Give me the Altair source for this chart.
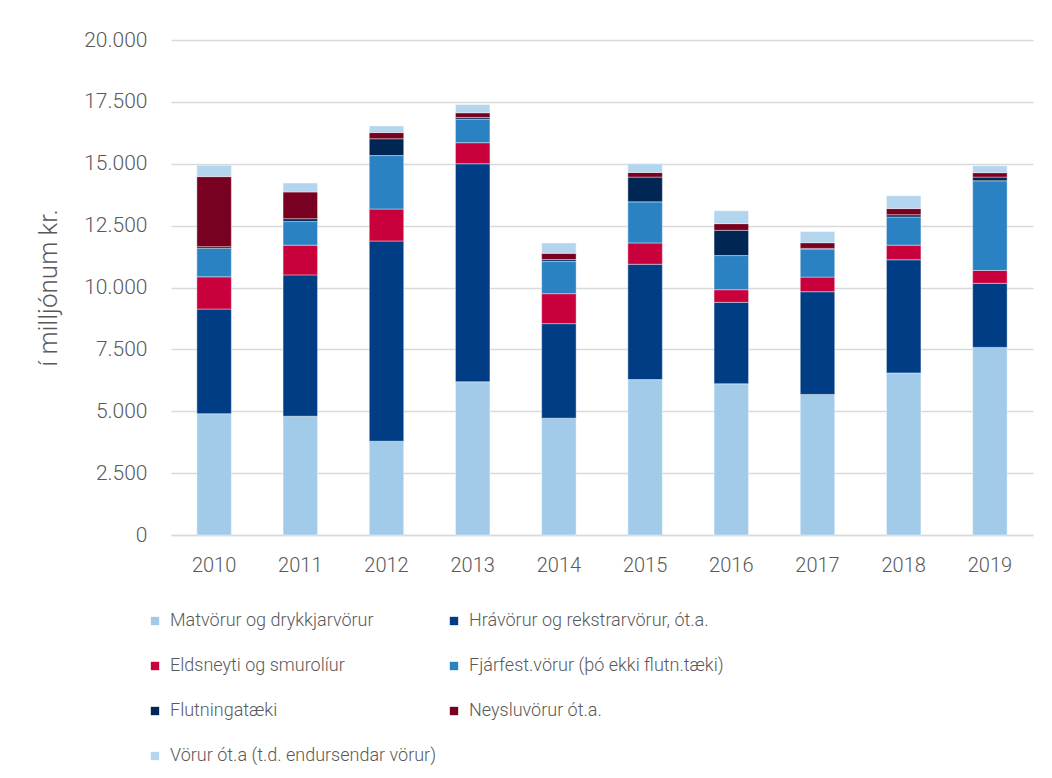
import altair as alt
import pandas as pd

years = ["2010", "2011", "2012", "2013", "2014", "2015", "2016", "2017", "2018", "2019"]
categories = [
    "Matvörur og drykkjarvörur",
    "Hrávörur og rekstrarvörur, ót.a.",
    "Eldsneyti og smurolíur",
    "Fjárfest.vörur (þó ekki flutn.tæki)",
    "Flutningatæki",
    "Neysluvörur ót.a.",
    "Vörur ót.a (t.d. endursendar vörur)",
]
colors = ["#A2CBEA", "#003D85", "#C8003C", "#2B82C2", "#002654", "#780020", "#B4D5EE"]

matvorur = [4900, 4800, 3790, 6190, 4720, 6280, 6110, 5680, 6550, 7580]
hravorur = [4230, 5710, 8090, 8810, 3820, 4660, 3290, 4150, 4570, 2590]
eldsneyti = [1300, 1200, 1290, 850, 1210, 860, 510, 590, 590, 520]
fjarfest = [1150, 960, 2160, 950, 1310, 1660, 1380, 1130, 1140, 3620]
flutningataeki = [70, 110, 680, 70, 70, 1000, 1020, 30, 90, 150]
neysluvorur = [2830, 1080, 250, 190, 250, 190, 270, 230, 250, 180]
vorur_ota = [460, 360, 270, 330, 420, 350, 520, 450, 520, 280]

series = [matvorur, hravorur, eldsneyti, fjarfest, flutningataeki, neysluvorur, vorur_ota]

rows = []
for ci, (cat, vals) in enumerate(zip(categories, series)):
    for y, v in zip(years, vals):
        rows.append({"Ár": y, "Flokkur": cat, "Gildi": v, "röð": ci})
df = pd.DataFrame(rows)

# legend lays entries out column by column: reorder so rows read left-to-right
legend_order = [0, 2, 4, 6, 1, 3, 5]
legend_domain = [categories[i] for i in legend_order]
legend_range = [colors[i] for i in legend_order]

FONT = "Roboto"
GREY = "#595959"

chart = (
    alt.Chart(df)
    .mark_bar(stroke="#FFFFFF", strokeOpacity=0.5, strokeWidth=0.8)
    .encode(
        x=alt.X(
            "Ár:N",
            sort=years,
            title=None,
            scale=alt.Scale(paddingInner=0.6, paddingOuter=0.3),
            axis=alt.Axis(
                labelAngle=0,
                labelFontSize=20,
                labelFontWeight=300,
                labelColor=GREY,
                labelFont=FONT,
                labelPadding=20,
                ticks=False,
                domainColor="#D9D9D9",
                domainWidth=1.5,
            ),
        ),
        y=alt.Y(
            "Gildi:Q",
            stack="zero",
            title="í milljónum kr.",
            scale=alt.Scale(domain=[0, 20000], nice=False),
            axis=alt.Axis(
                values=[0, 2500, 5000, 7500, 10000, 12500, 15000, 17500, 20000],
                labelExpr="replace(format(datum.value, ','), ',', '.')",
                labelFontSize=21,
                labelFontWeight=300,
                labelColor=GREY,
                labelFont=FONT,
                labelPadding=24,
                ticks=False,
                domain=False,
                gridColor="#D9D9D9",
                gridWidth=1.5,
                titleFontSize=26,
                titleFont=FONT,
                titleColor=GREY,
                titleFontWeight=300,
                titlePadding=22,
            ),
        ),
        color=alt.Color(
            "Flokkur:N",
            scale=alt.Scale(domain=legend_domain, range=legend_range),
            legend=alt.Legend(
                title=None,
                orient="none",
                legendX=-25,
                legendY=572,
                columns=2,
                columnPadding=8,
                rowPadding=27,
                symbolType="square",
                symbolSize=70,
                symbolStrokeWidth=0,
                labelFontSize=18,
                labelFontWeight=300,
                labelFont=FONT,
                labelColor=GREY,
                labelLimit=400,
                labelOffset=6,
            ),
        ),
        order=alt.Order("röð:Q", sort="ascending"),
    )
    .properties(
        width=862,
        height=495,
        padding={"left": 163, "top": 32, "right": 11, "bottom": 242},
        autosize=alt.AutoSizeParams(type="none"),
        background="#FFFFFF",
    )
    .configure_view(strokeWidth=0, stroke="transparent")
)

chart.save("out.html", embed_options={"renderer": "svg", "actions": False})
